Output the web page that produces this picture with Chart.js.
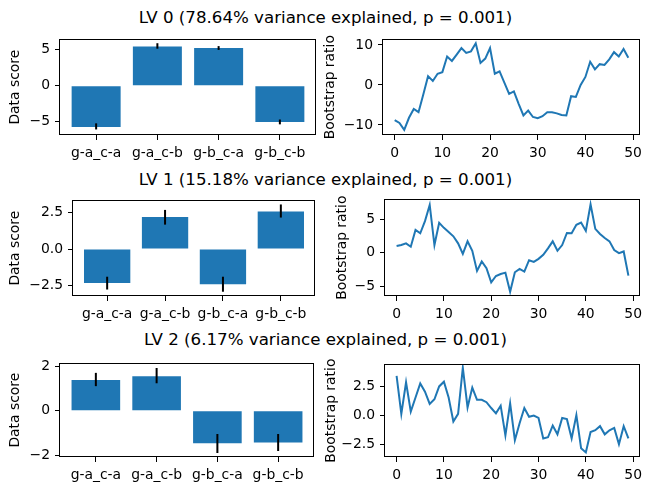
<!DOCTYPE html>
<html><head><meta charset="utf-8">
<script src="https://cdn.jsdelivr.net/npm/chart.js@4.4.0/dist/chart.umd.min.js"></script>
<style>
html,body{margin:0;padding:0;background:#fff;}
#fig{position:relative;width:651px;height:491px;overflow:hidden;background:#fff;}
#fig canvas{position:absolute;}
.title{position:absolute;left:0;width:651px;text-align:center;font-family:'DejaVu Sans',sans-serif;font-size:16.67px;line-height:20px;color:#000;white-space:nowrap;}
</style></head><body><div id="fig"></div>
<script>
// ---------- data ----------
const lvTitles = [
  'LV 0 (78.64% variance explained, p = 0.001)',
  'LV 1 (15.18% variance explained, p = 0.001)',
  'LV 2 (6.17% variance explained, p = 0.001)'
];
const barCategories = ['g-a_c-a', 'g-a_c-b', 'g-b_c-a', 'g-b_c-b'];

const lv0Scores = [-5.73, 5.46, 5.23, -5.06];
const lv0Lower  = [-6.08, 5.14, 4.97, -5.37];
const lv0Upper  = [-5.23, 5.90, 5.50, -4.70];

const lv1Scores = [-2.31, 2.18, -2.40, 2.55];
const lv1Lower  = [-2.75, 1.66, -2.90, 2.14];
const lv1Upper  = [-1.88, 2.66, -1.88, 3.03];

const lv2Scores = [1.39, 1.56, -1.47, -1.43];
const lv2Lower  = [1.11, 1.24, -1.91, -1.82];
const lv2Upper  = [1.71, 1.93, -1.05, -1.05];

const lv0Ratios = [-8.8, -9.5, -11.2, -8.2, -6.0, -6.8, -2.4, 2.2, 1.0, 2.8,
                   3.2, 7.1, 6.0, 7.6, 9.2, 8.0, 8.4, 10.4, 5.5, 6.6,
                   9.2, 2.8, 3.4, 0.6, -2.2, -1.6, -4.7, -7.6, -6.4, -8.0,
                   -8.3, -7.8, -6.8, -6.8, -7.1, -7.5, -7.6, -2.8, -3.0, 0.0,
                   2.0, 5.8, 3.9, 5.2, 5.0, 6.4, 8.2, 7.1, 9.0, 6.8];
const lv1Ratios = [1.0, 1.15, 1.4, 0.9, 3.4, 2.9, 4.7, 7.1, 1.15, 4.45,
                   3.7, 3.1, 2.45, 1.4, -0.15, 1.7, 0.3, -2.7, -1.3, -2.3,
                   -4.4, -3.45, -3.15, -2.95, -5.8, -2.9, -2.4, -2.8, -1.1, -1.35,
                   -0.9, -0.3, 0.65, 1.7, 0.3, 1.15, 2.95, 2.9, 4.15, 4.5,
                   3.25, 7.2, 3.55, 2.8, 2.2, 1.7, 0.4, -0.05, 0.2, -3.4];
const lv2Ratios = [3.4, 0.15, 2.85, 0.35, 1.55, 2.75, 2.05, 1.0, 1.4, 2.5,
                   2.9, 1.55, -0.5, 0.15, 4.1, 0.7, 2.4, 1.35, 1.35, 1.15,
                   0.65, 0.2, 0.85, -1.7, 1.05, -2.1, -0.65, 0.65, -0.1, 0.0,
                   -0.2, -1.95, -1.85, -0.85, -1.6, -0.2, -0.3, -1.95, 0.05, -2.8,
                   -3.15, -1.4, -1.25, -0.9, -1.6, -1.25, -1.05, -2.45, -0.9, -1.95];

const barYTicks = [[-5, 0, 5], [-2.5, 0, 2.5], [-2, 0, 2]];
const ratioYTicks = [[-10, 0, 10], [-5, 0, 5], [-2.5, 0, 2.5]];
const ratioXTicks = [0, 10, 20, 30, 40, 50];
const barYLimits = [[-6.85, 6.44], [-3.19, 3.31], [-2.09, 2.14]];
const ratioYLimits = [[-12.5, 11.4], [-6.42, 7.94], [-3.54, 4.39]];

// ---------- layout (page pixel boxes of each axes) ----------
const layout = [
  {bar: {l:60, t:36, r:316, b:135, tx:15.5}, line: {l:383, t:36, r:640, b:135, tx:330}, titleY: 8},
  {bar: {l:73, t:197, r:315, b:296, tx:15.5}, line: {l:385, t:196, r:640, b:296, tx:342}, titleY: 170},
  {bar: {l:60, t:360, r:314, b:457, tx:15.5}, line: {l:385, t:361, r:640, b:457, tx:331}, titleY: 330}
];

const FONT = "'DejaVu Sans', sans-serif";
const TS = 13.9;
const BLUE = '#1f77b4';
const PAD_T = 10, PAD_R = 14, XH = 32;

function fmt(v, d) { return (v < -1e-12 ? '\u2212' : '') + Math.abs(v).toFixed(d); }
function decimals(arr) { return arr.some(v => !Number.isInteger(v)) ? 1 : 0; }

const boxPlugin = {
  id: 'box',
  afterDraw(chart) {
    const {ctx, chartArea: a} = chart;
    ctx.save();
    ctx.strokeStyle = '#000'; ctx.lineWidth = 1;
    const L = Math.round(a.left) - 0.5, T = Math.round(a.top) + 0.5;
    const R = Math.round(a.right) - 0.5, B = Math.round(a.bottom) - 0.5;
    ctx.strokeRect(L, T, R - L, B - T);
    ctx.restore();
  }
};
function errPlugin(lo, hi) {
  return {
    id: 'errbars',
    afterDatasetsDraw(chart) {
      const {ctx} = chart, xs = chart.scales.x, ys = chart.scales.y;
      ctx.save(); ctx.strokeStyle = '#000'; ctx.lineWidth = 2; ctx.lineCap = 'butt';
      lo.forEach((v, i) => {
        const x = xs.getPixelForValue(i);
        ctx.beginPath();
        ctx.moveTo(x, ys.getPixelForValue(v));
        ctx.lineTo(x, ys.getPixelForValue(hi[i]));
        ctx.stroke();
      });
      ctx.restore();
    }
  };
}

function baseAxis() {
  return {
    grid: {display: true, drawOnChartArea: false, drawTicks: true, tickLength: 5, color: '#000', lineWidth: 1, offset: false},
    border: {display: false},
    offset: false,
    ticks: {color: '#000', font: {family: FONT, size: TS}, padding: 5, maxRotation: 0, minRotation: 0, autoSkip: false}
  };
}

function makePanel(box, type, data, xMin, xMax, xTicks, xLabel, yLim, yTicks, yTitle, plugins) {
  const fig = document.getElementById('fig');
  const cv = document.createElement('canvas');
  const left = Math.round(box.tx - TS * 1.2 / 2);
  const top = box.t - PAD_T;
  const w = box.r + PAD_R - left;
  const h = PAD_T + (box.b - box.t) + XH;
  cv.width = w; cv.height = h;
  cv.style.left = left + 'px'; cv.style.top = top + 'px';
  cv.style.width = w + 'px'; cv.style.height = h + 'px';
  fig.appendChild(cv);
  const yW = box.l - left;
  const yd = decimals(yTicks);
  const xAxis = Object.assign(baseAxis(), {
    type: 'linear', min: xMin, max: xMax,
    afterBuildTicks: s => { s.ticks = xTicks.map(v => ({value: v})); },
    afterFit: s => { s.height = XH; }
  });
  xAxis.ticks.callback = xLabel;
  const yAxis = Object.assign(baseAxis(), {
    type: 'linear', min: yLim[0], max: yLim[1],
    afterBuildTicks: s => { s.ticks = yTicks.map(v => ({value: v})); },
    afterFit: s => { s.width = yW; },
    title: {display: true, text: yTitle, color: '#000', font: {family: FONT, size: TS}, padding: 0}
  });
  yAxis.ticks.callback = v => fmt(v, yd);
  const dataset = type === 'bar'
    ? {data, backgroundColor: BLUE, borderWidth: 0, barPercentage: 0.8, categoryPercentage: 1.0}
    : {data, borderColor: BLUE, borderWidth: 2, pointRadius: 0, tension: 0, fill: false};
  new Chart(cv, {
    type,
    data: {datasets: [dataset]},
    options: {
      responsive: false, animation: false, devicePixelRatio: 1, events: [],
      layout: {padding: {top: PAD_T, right: PAD_R, left: 0, bottom: 0}},
      plugins: {legend: {display: false}, tooltip: {enabled: false}, title: {display: false}},
      scales: {x: xAxis, y: yAxis}
    },
    plugins: [boxPlugin].concat(plugins)
  });
}

const barSets = [[lv0Scores, lv0Lower, lv0Upper], [lv1Scores, lv1Lower, lv1Upper], [lv2Scores, lv2Lower, lv2Upper]];
const ratioSets = [lv0Ratios, lv1Ratios, lv2Ratios];

lvTitles.forEach((t, r) => {
  const d = document.createElement('div');
  d.className = 'title'; d.textContent = t; d.style.top = layout[r].titleY + 'px';
  document.getElementById('fig').appendChild(d);

  const [sc, lo, hi] = barSets[r];
  makePanel(layout[r].bar, 'bar', sc.map((v, i) => ({x: i, y: v})),
    -0.59, 3.59, barCategories.map((c, i) => i), v => barCategories[v],
    barYLimits[r], barYTicks[r], 'Data score', [errPlugin(lo, hi)]);

  const rr = ratioSets[r];
  makePanel(layout[r].line, 'line', rr.map((v, i) => ({x: i, y: v})),
    -2.45, 51.45, ratioXTicks, v => fmt(v, 0),
    ratioYLimits[r], ratioYTicks[r], 'Bootstrap ratio', []);
});
</script></body></html>
